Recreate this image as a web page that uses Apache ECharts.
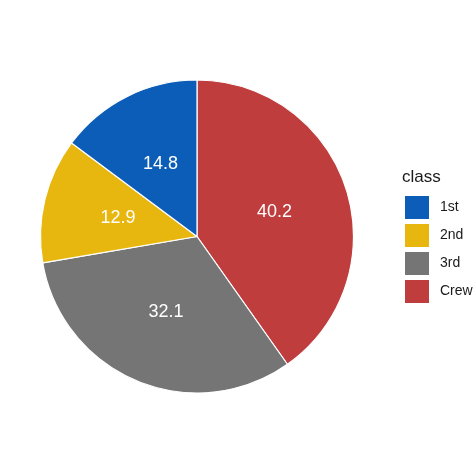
<!DOCTYPE html>
<html>
<head>
<meta charset="utf-8">
<script src="https://cdn.jsdelivr.net/npm/echarts@6/dist/echarts.min.js"></script>
<style>html,body{margin:0;padding:0;background:#fff}#c{width:474px;height:474px}</style>
</head>
<body>
<div id="c"></div>
<script>
// data (drawn clockwise from 12 o'clock)
const categories = ["Crew", "3rd", "2nd", "1st"];
const values = [40.2, 32.1, 12.9, 14.8];
const legendOrder = ["1st", "2nd", "3rd", "Crew"];
const colorMap = { "1st": "#0C5DB8", "2nd": "#E8B70F", "3rd": "#757575", "Crew": "#C03D3D" };

const chart = echarts.init(document.getElementById('c'), null, { renderer: 'canvas' });
chart.setOption({
  backgroundColor: '#ffffff',
  animation: false,
  title: {
    text: 'class', left: 397, top: 164,
    textStyle: { fontFamily: 'Liberation Sans, Arial, sans-serif', fontSize: 17, fontWeight: 'normal', color: '#1a1a1a' }
  },
  legend: {
    data: legendOrder,
    orient: 'vertical', left: 400, top: 191,
    itemWidth: 24, itemHeight: 23, itemGap: 5,
    icon: 'rect',
    itemStyle: { borderWidth: 0 },
    textStyle: { fontFamily: 'Liberation Sans, Arial, sans-serif', fontSize: 14, color: '#1a1a1a', padding: [0, 0, 0, 6] }
  },
  series: [{
    type: 'pie',
    center: [197, 236.5],
    radius: [0, 156.5],
    startAngle: 90,
    clockwise: true,
    data: categories.map((c, i) => ({ name: c, value: values[i], itemStyle: { color: colorMap[c] } })),
    itemStyle: { borderColor: '#ffffff', borderWidth: 1.2 },
    label: {
      show: true, position: 'inside',
      formatter: p => p.value.toFixed(1),
      color: '#ffffff', fontSize: 18,
      fontFamily: 'Liberation Sans, Arial, sans-serif'
    },
    labelLine: { show: false },
    emphasis: { disabled: true }
  }]
});
</script>
</body>
</html>
